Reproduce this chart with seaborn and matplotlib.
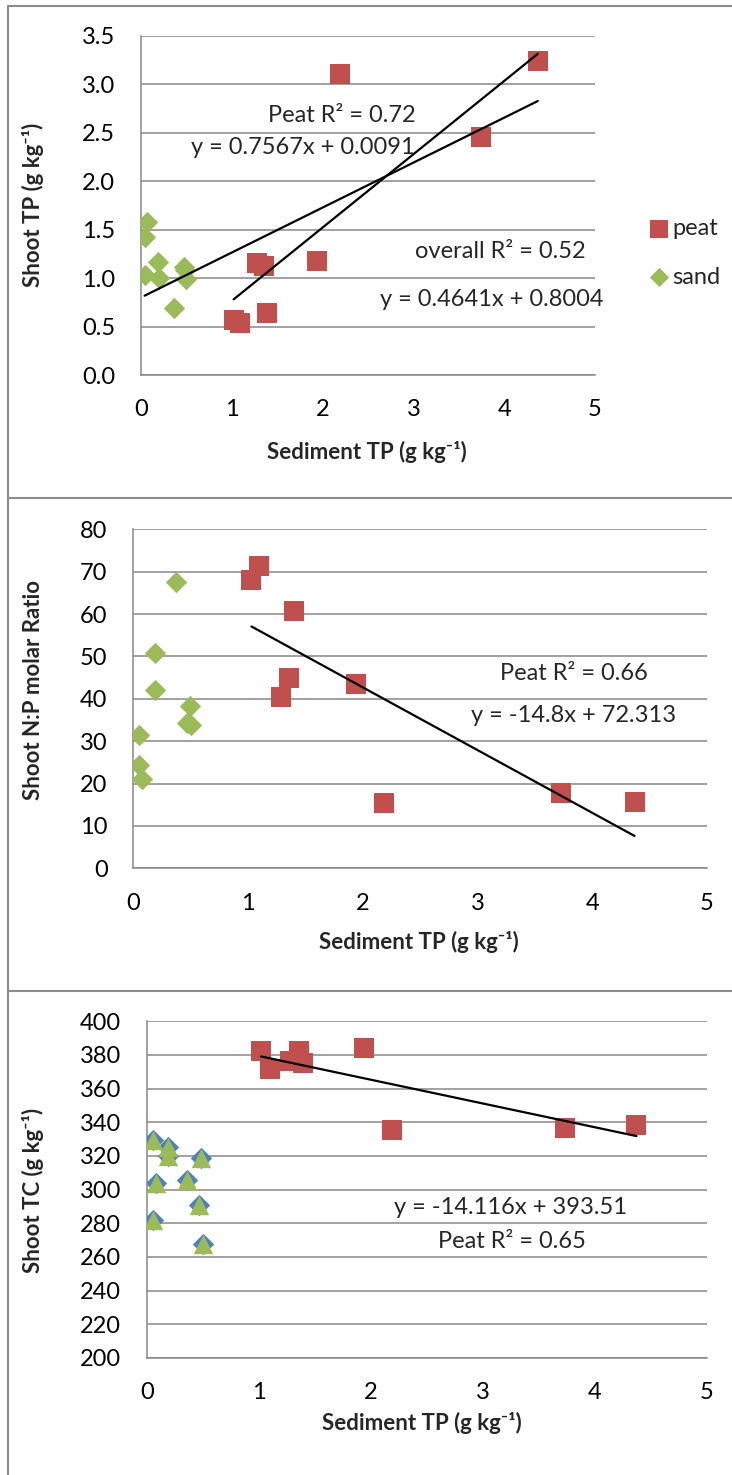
import numpy as np
import pandas as pd
import matplotlib
matplotlib.use("Agg")
import matplotlib.pyplot as plt
import seaborn as sns
from matplotlib.lines import Line2D

# ---------------- data ----------------
x_ticks = [0, 1, 2, 3, 4, 5]

peat_tp_x = [1.02, 1.09, 1.28, 1.35, 1.39, 1.94, 2.19, 3.74, 4.37]
peat_tp_y = [0.57, 0.54, 1.16, 1.13, 0.64, 1.18, 3.11, 2.46, 3.24]
sand_tp_x = [0.07, 0.04, 0.19, 0.04, 0.20, 0.47, 0.49, 0.50, 0.36]
sand_tp_y = [1.58, 1.42, 1.17, 1.03, 1.00, 1.11, 1.08, 0.99, 0.69]

peat_np_x = [1.03, 1.10, 1.29, 1.36, 1.40, 1.94, 2.19, 3.73, 4.37]
peat_np_y = [68.0, 71.4, 40.4, 44.9, 60.7, 43.5, 15.5, 17.8, 15.7]
sand_np_x = [0.37, 0.19, 0.19, 0.49, 0.47, 0.50, 0.05, 0.05, 0.08]
sand_np_y = [67.6, 50.8, 42.0, 38.4, 34.2, 33.7, 31.5, 24.3, 21.0]

peat_tc_x = [1.02, 1.10, 1.28, 1.36, 1.39, 1.94, 2.19, 3.73, 4.37]
peat_tc_y = [382.5, 371.5, 376.6, 382.5, 375.4, 384.3, 335.4, 336.8, 338.6]
sand_tc_x = [0.05, 0.19, 0.19, 0.48, 0.08, 0.36, 0.46, 0.05, 0.50]
sand_tc_y = [329.5, 325.6, 320.0, 318.6, 304.0, 306.0, 291.0, 282.0, 268.0]

# trendline coefficients (from the chart's equations)
tp_peat_fit = (0.7567, 0.0091)
tp_all_fit = (0.4641, 0.8004)
np_peat_fit = (-14.8, 72.313)
tc_peat_fit = (-14.116, 393.51)

# ---------------- style ----------------
W, H = 732, 1475
sns.set_theme(style="white")
plt.rcParams['font.family'] = ['Lato', 'DejaVu Sans']
plt.rcParams['axes.unicode_minus'] = False

RED = '#C0504D'
GREEN = '#9BBB59'
BLUE = '#4F81BD'
GRID = '#888888'
TXT = 17
LAB = 16

fig = plt.figure(figsize=(W / 100, H / 100), dpi=100)
fig.patch.set_facecolor('white')


def fx(x):
    return x / W


def fy(y):
    return 1 - y / H


def make_ax(l, r, t, b):
    return fig.add_axes([fx(l), fy(b), (r - l) / W, (b - t) / H])


def style_ax(ax, ylim, yticks, yfmt):
    ax.set_xlim(0, 5)
    ax.set_ylim(*ylim)
    ax.set_xticks(x_ticks)
    ax.set_yticks(yticks)
    ax.set_yticklabels([yfmt.format(v) for v in yticks])
    ax.grid(axis='y', color=GRID, lw=1.1)
    ax.grid(axis='x', visible=False)
    ax.set_axisbelow(True)
    for s in ['top', 'right']:
        ax.spines[s].set_visible(False)
    for s in ['left', 'bottom']:
        ax.spines[s].set_color(GRID)
        ax.spines[s].set_linewidth(1.1)
    ax.tick_params(axis='both', which='both', direction='out', length=6.5,
                   width=1.1, color=GRID, labelsize=TXT, labelcolor='black')
    ax.tick_params(axis='y', pad=12)
    ax.tick_params(axis='x', pad=11)
    ax.set_facecolor('white')


def trend(ax, xs, coef):
    xr = np.array([min(xs), max(xs)])
    df = pd.DataFrame({'x': xr, 'y': coef[0] * xr + coef[1]})
    sns.lineplot(data=df, x='x', y='y', ax=ax, color='black', lw=1.6,
                 legend=False, zorder=4)


SQ = 210
DI = 118

# ---------------- panel 1 ----------------
ax1 = make_ax(141, 595, 36, 375)
trend(ax1, peat_tp_x, tp_peat_fit)
trend(ax1, peat_tp_x + sand_tp_x, tp_all_fit)
sns.scatterplot(x=peat_tp_x, y=peat_tp_y, ax=ax1, marker='s', s=SQ,
                color=RED, linewidth=0, label='peat', zorder=3)
sns.scatterplot(x=sand_tp_x, y=sand_tp_y, ax=ax1, marker='D', s=DI,
                color=GREEN, linewidth=0, label='sand', zorder=3)
style_ax(ax1, (0, 3.5), list(np.arange(0, 3.51, 0.5)), '{:.1f}')
ax1.set_xlabel('Sediment TP (g kg⁻¹)', fontsize=LAB, fontweight='bold')
ax1.set_ylabel('Shoot TP (g kg⁻¹)', fontsize=LAB, fontweight='bold')
ax1.xaxis.set_label_coords(fx(367), fy(441), transform=fig.transFigure)
ax1.yaxis.set_label_coords(fx(44), fy(205), transform=fig.transFigure)
leg = ax1.legend(loc='center left', bbox_to_anchor=(fx(638), fy(253)),
                 bbox_transform=fig.transFigure, frameon=False,
                 fontsize=TXT, handletextpad=0.05, labelspacing=1.15,
                 borderaxespad=0, handlelength=1.0, markerscale=0.9)

fig.text(fx(342), fy(116), 'Peat R² = 0.72', fontsize=TXT, ha='center', va='center')
fig.text(fx(303), fy(148), 'y = 0.7567x + 0.0091', fontsize=TXT, ha='center', va='center')
fig.text(fx(500), fy(252), 'overall R² = 0.52', fontsize=TXT, ha='center', va='center')
fig.text(fx(492), fy(300), 'y = 0.4641x + 0.8004', fontsize=TXT, ha='center', va='center')

# ---------------- panel 2 ----------------
ax2 = make_ax(133.3, 706.8, 529.3, 868.3)
trend(ax2, peat_np_x, np_peat_fit)
sns.scatterplot(x=peat_np_x, y=peat_np_y, ax=ax2, marker='s', s=SQ,
                color=RED, linewidth=0, zorder=3, legend=False)
sns.scatterplot(x=sand_np_x, y=sand_np_y, ax=ax2, marker='D', s=DI,
                color=GREEN, linewidth=0, zorder=3, legend=False)
style_ax(ax2, (0, 80), list(range(0, 81, 10)), '{:d}')
ax2.set_xlabel('Sediment TP (g kg⁻¹)', fontsize=LAB, fontweight='bold')
ax2.set_ylabel('Shoot N:P molar Ratio', fontsize=LAB, fontweight='bold')
ax2.xaxis.set_label_coords(fx(419), fy(931), transform=fig.transFigure)
ax2.yaxis.set_label_coords(fx(44), fy(690), transform=fig.transFigure)
fig.text(fx(574), fy(673), 'Peat R² = 0.66', fontsize=TXT, ha='center', va='center')
fig.text(fx(574), fy(716), 'y = -14.8x + 72.313', fontsize=TXT, ha='center', va='center')

# ---------------- panel 3 ----------------
ax3 = make_ax(147, 707, 1021.3, 1358)
trend(ax3, peat_tc_x, tc_peat_fit)
sns.scatterplot(x=peat_tc_x, y=peat_tc_y, ax=ax3, marker='s', s=SQ,
                color=RED, linewidth=0, zorder=3, legend=False)
sns.scatterplot(x=sand_tc_x, y=sand_tc_y, ax=ax3, marker='D', s=DI,
                color=BLUE, linewidth=0, zorder=3, legend=False)
sns.scatterplot(x=sand_tc_x, y=sand_tc_y, ax=ax3, marker='^', s=195,
                color=GREEN, linewidth=0, zorder=3.5, legend=False)
style_ax(ax3, (200, 400), list(range(200, 401, 20)), '{:d}')
ax3.set_xlabel('Sediment TP (g kg⁻¹)', fontsize=LAB, fontweight='bold')
ax3.set_ylabel('Shoot TC (g kg⁻¹)', fontsize=LAB, fontweight='bold')
ax3.xaxis.set_label_coords(fx(422), fy(1412), transform=fig.transFigure)
ax3.yaxis.set_label_coords(fx(44), fy(1190), transform=fig.transFigure)
fig.text(fx(510), fy(1207), 'y = -14.116x + 393.51', fontsize=TXT, ha='center', va='center')
fig.text(fx(512), fy(1242), 'Peat R² = 0.65', fontsize=TXT, ha='center', va='center')

# ---------------- panel frames ----------------
frame_kw = dict(color='#8C8C8C', lw=1.5, transform=fig.transFigure)
fig.add_artist(Line2D([fx(8), fx(8)], [fy(6), fy(H)], **frame_kw))
fig.add_artist(Line2D([fx(8), fx(W)], [fy(6), fy(6)], **frame_kw))
fig.add_artist(Line2D([fx(8), fx(W)], [fy(498), fy(498)], **frame_kw))
fig.add_artist(Line2D([fx(8), fx(W)], [fy(991), fy(991)], **frame_kw))

fig.savefig('out.png', dpi=100, facecolor='white')
